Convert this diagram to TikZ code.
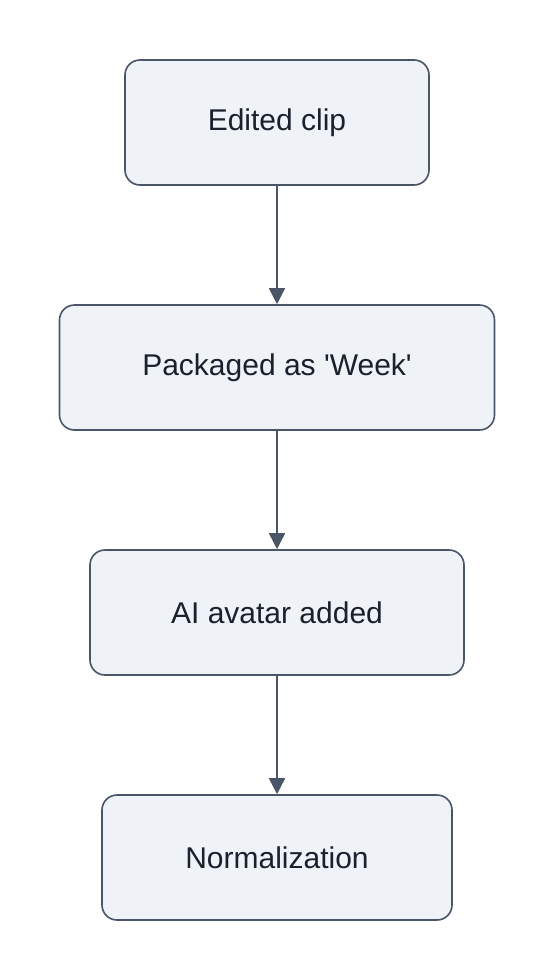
\documentclass[tikz,border=0pt]{standalone}
\usepackage{fontspec}
\setmainfont{Liberation Sans}
\usetikzlibrary{positioning,arrows.meta}
\definecolor{boxfill}{HTML}{EFF3F8}
\definecolor{boxline}{HTML}{4A5568}
\definecolor{textdark}{HTML}{1A202C}
\begin{document}
\begin{tikzpicture}[x=0.5pt, y=-0.5pt, node distance=59.2pt,
  every node/.style =
  	{shape=rectangle, rounded corners=7.5pt,
    draw=boxline, line width=0.8pt, fill=boxfill, align=center,
    text=textdark, font=\fontsize{15}{18}\selectfont,
    minimum height=62.5pt},
  flow/.style = {draw=boxline, line width=0.8pt,
    -{Triangle[length=8pt,width=8pt]}}
]
  \useasboundingbox (0,0) rectangle (556,980);

  \node[minimum width=152pt] (clip) at (277,122.5) {Edited clip};
  \node[minimum width=217.5pt, below=of clip] (week) {Packaged as \textquotesingle Week\textquotesingle};
  \node[minimum width=187pt, below=of week] (avatar) {AI avatar added};
  \node[minimum width=175pt, below=of avatar] (norm) {Normalization};

  \draw[flow] (clip) -- (week);
  \draw[flow] (week) -- (avatar);
  \draw[flow] (avatar) -- (norm);

\end{tikzpicture}
\end{document}
